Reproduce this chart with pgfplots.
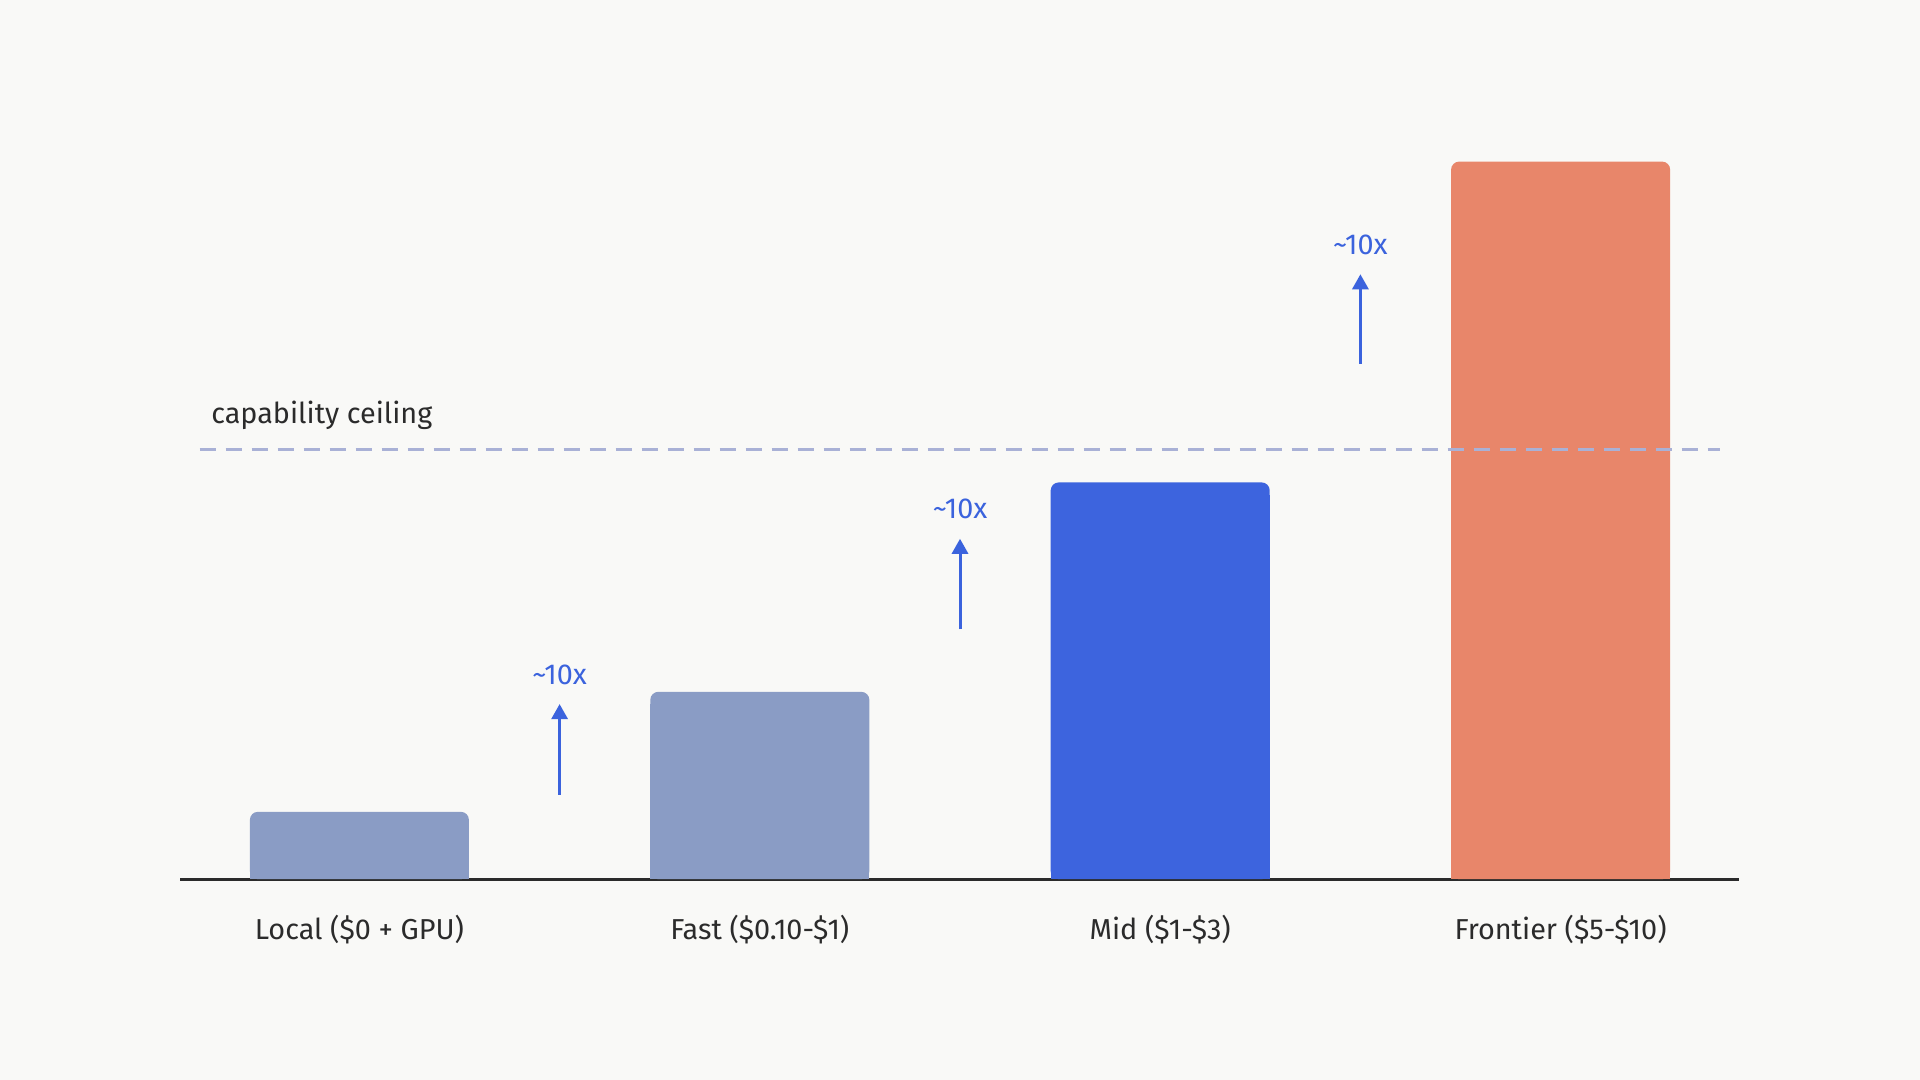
\documentclass[border=0pt]{standalone}
\usepackage{pgfplots}
\pgfplotsset{compat=1.18}
\usepackage{fontspec}
\setmainfont{Fira Sans}
\usetikzlibrary{arrows.meta,backgrounds}
\definecolor{bgc}{HTML}{F9F9F7}
\definecolor{slate}{HTML}{8A9CC5}
\definecolor{royal}{HTML}{3D64DE}
\definecolor{coral}{HTML}{E8866A}
\definecolor{ceil}{HTML}{A9B1D6}
\definecolor{txt}{HTML}{2B2B2B}
\definecolor{arr}{HTML}{3B63DD}
\begin{document}
\begin{tikzpicture}[font=\fontsize{8.2}{10}\selectfont]
\begin{axis}[
  x=40.04mm, y=0.12245mm,
  xmin=-0.448, xmax=3.445, ymin=0, ymax=640,
  clip=false,
  hide y axis,
  axis x line*=bottom,
  x axis line style={-, line width=0.3mm, draw=txt},
  xtick={0,1,2,3},
  xticklabels={Local (\$0 + GPU), Fast (\$0.10-\$1), Mid (\$1-\$3), Frontier (\$5-\$10)},
  xticklabel style={anchor=base, yshift=-6.05mm, text=txt, font=\fontsize{8.2}{10}\selectfont},
  major tick length=0pt,
  ybar, bar width=0.547, bar shift=0pt,
]
\coordinate (bl) at (axis cs:-0.8976,-164);
\coordinate (tr) at (axis cs:3.8976,718);
% rounded full bars
\addplot[fill=slate, draw=none, rounded corners=0.8mm] coordinates {(0,55)};
\addplot[fill=slate, draw=none, rounded corners=0.8mm] coordinates {(1,153)};
\addplot[fill=royal, draw=none, rounded corners=0.8mm] coordinates {(2,324)};
\addplot[fill=coral, draw=none, rounded corners=0.8mm] coordinates {(3,586)};
% square lower parts (hide rounded bottoms)
\addplot[fill=slate, draw=none] coordinates {(0,45)};
\addplot[fill=slate, draw=none] coordinates {(1,143)};
\addplot[fill=royal, draw=none] coordinates {(2,314)};
\addplot[fill=coral, draw=none] coordinates {(3,576)};
% capability ceiling
\addplot[sharp plot, draw=ceil, line width=0.3mm, dash pattern=on 1.6mm off 1.0mm] coordinates {(-0.399,351) (3.399,351)};
\node[anchor=base west, text=txt, font=\fontsize{8.2}{10}\selectfont, inner sep=0pt] at (axis cs:-0.3716,372) {capability ceiling};
% arrows
\draw[arr, line width=0.3mm, -{Triangle[width=1.6mm,length=1.5mm]}] (axis cs:0.5,69) -- (axis cs:0.5,143);
\draw[arr, line width=0.3mm, -{Triangle[width=1.6mm,length=1.5mm]}] (axis cs:1.5,204) -- (axis cs:1.5,278);
\draw[arr, line width=0.3mm, -{Triangle[width=1.6mm,length=1.5mm]}] (axis cs:2.5,421) -- (axis cs:2.5,494);
\node[text=arr, inner sep=0pt] at (axis cs:0.5,167) {\textasciitilde 10x};
\node[text=arr, inner sep=0pt] at (axis cs:1.5,302) {\textasciitilde 10x};
\node[text=arr, inner sep=0pt] at (axis cs:2.5,518) {\textasciitilde 10x};
\end{axis}
\begin{pgfonlayer}{background}
\fill[bgc] (bl) rectangle (tr);
\end{pgfonlayer}
\end{tikzpicture}
\end{document}
